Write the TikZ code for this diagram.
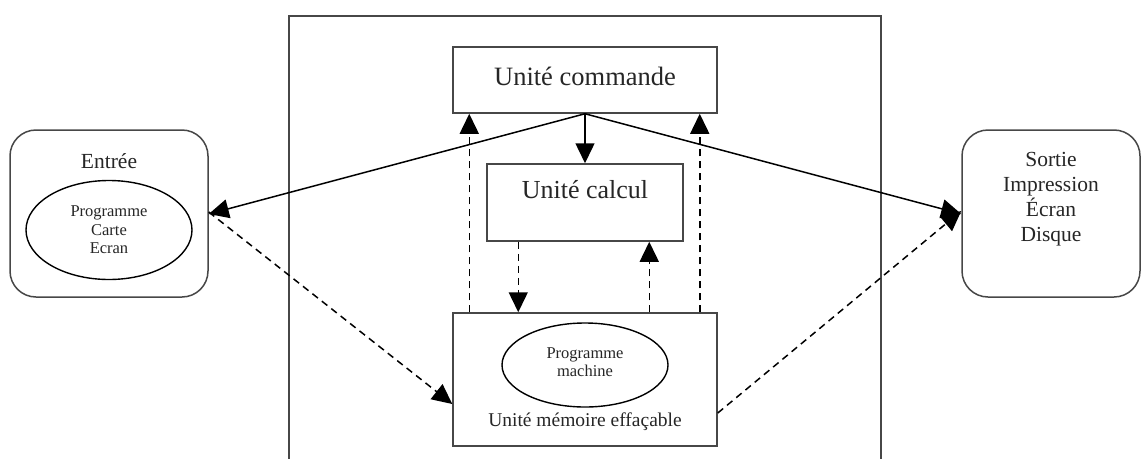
\documentclass[tikz,border=0pt]{standalone}
\usepackage{fontspec}
\setmainfont{Liberation Serif}
\usetikzlibrary{arrows.meta,shapes.geometric,calc}
\begin{document}
\begin{tikzpicture}[x=1pt,y=-1pt,
  boxline/.style={draw=black!72,line width=1.5pt},
  unitbox/.style={boxline,rectangle,inner sep=0pt},
  roundbox/.style={boxline,rectangle,rounded corners=26pt,inner sep=0pt},
  ell/.style={draw=black,line width=1.4pt,ellipse,inner sep=0pt},
  lbl/.style={inner sep=0pt,align=center,text=black!85},
  arr/.style={draw=black,line width=1.5pt,-{Triangle[length=20pt,width=19pt]}},
  darr/.style={arr,dash pattern=on 7pt off 5pt}
]
\useasboundingbox (0,0) rectangle (1145,458);
\fill[white] (0,0) rectangle (1145,458);
% outer frame (bottom cut off)
\draw[boxline] (289,470) -- (289,16) -- (881,16) -- (881,470);

% Unité commande
\node[unitbox,minimum width=264pt,minimum height=66pt] (cmd) at (585,80) {};
\node[lbl,font=\fontsize{26.5}{30}\selectfont] (cmdtext) at (585,76) {Unité commande};

% Unité calcul
\node[unitbox,minimum width=196pt,minimum height=77pt] (calc) at (585,202.5) {};
\node[lbl,font=\fontsize{26}{30}\selectfont] (calctext) at (585,190) {Unité calcul};

% Unité mémoire
\node[unitbox,minimum width=264pt,minimum height=133pt] (mem) at (585,379.5) {};
\node[ell,minimum width=166pt,minimum height=84pt] (memell) at (585,365) {};
\node[lbl,font=\fontsize{16.5}{18}\selectfont] (memelltext) at (585,362) {Programme\\machine};
\node[lbl,font=\fontsize{19.5}{22}\selectfont] (memtext) at (585,422) {Unité mémoire effaçable};

% Entrée
\node[roundbox,minimum width=198pt,minimum height=167pt] (in) at (109,213.5) {};
\node[lbl,font=\fontsize{21.5}{24}\selectfont] (intext) at (109,161) {Entrée};
\node[ell,minimum width=166pt,minimum height=99pt] (inell) at (109,230) {};
\node[lbl,font=\fontsize{16.5}{18.5}\selectfont] (inelltext) at (109,230) {Programme\\Carte\\Ecran};

% Sortie
\node[roundbox,minimum width=178pt,minimum height=167pt] (out) at (1051,213.5) {};
\node[lbl,font=\fontsize{21.5}{25}\selectfont] (outtext) at (1051,199) {Sortie\\Impression\\Écran\\Disque};

% solid arrows from Unité commande
\draw[arr] (cmd.south) -- (calc.north);
\coordinate (inR) at ([yshift=-0.5pt]in.east);
\coordinate (outL) at ([yshift=-0.5pt]out.west);
\draw[arr] (cmd.south) -- (inR);
\draw[arr] (cmd.south) -- (outL);

% dashed arrows
\draw[darr] ([yshift=1.5pt]in.east) -- ([yshift=-24.5pt]mem.west);
\draw[darr] ([yshift=-33.5pt]mem.east) -- ([yshift=2.5pt]out.west);
\draw[darr] ([xshift=32pt]calc.south west) -- ([xshift=66pt]mem.north west);
\draw[darr] ([xshift=197pt]mem.north west) -- ([xshift=163pt]calc.south west);
\draw[darr] ([xshift=17pt]mem.north west) -- ([xshift=17pt]cmd.south west);
\draw[darr] ([xshift=-18pt]mem.north east) -- ([xshift=-18pt]cmd.south east);
\end{tikzpicture}
\end{document}
